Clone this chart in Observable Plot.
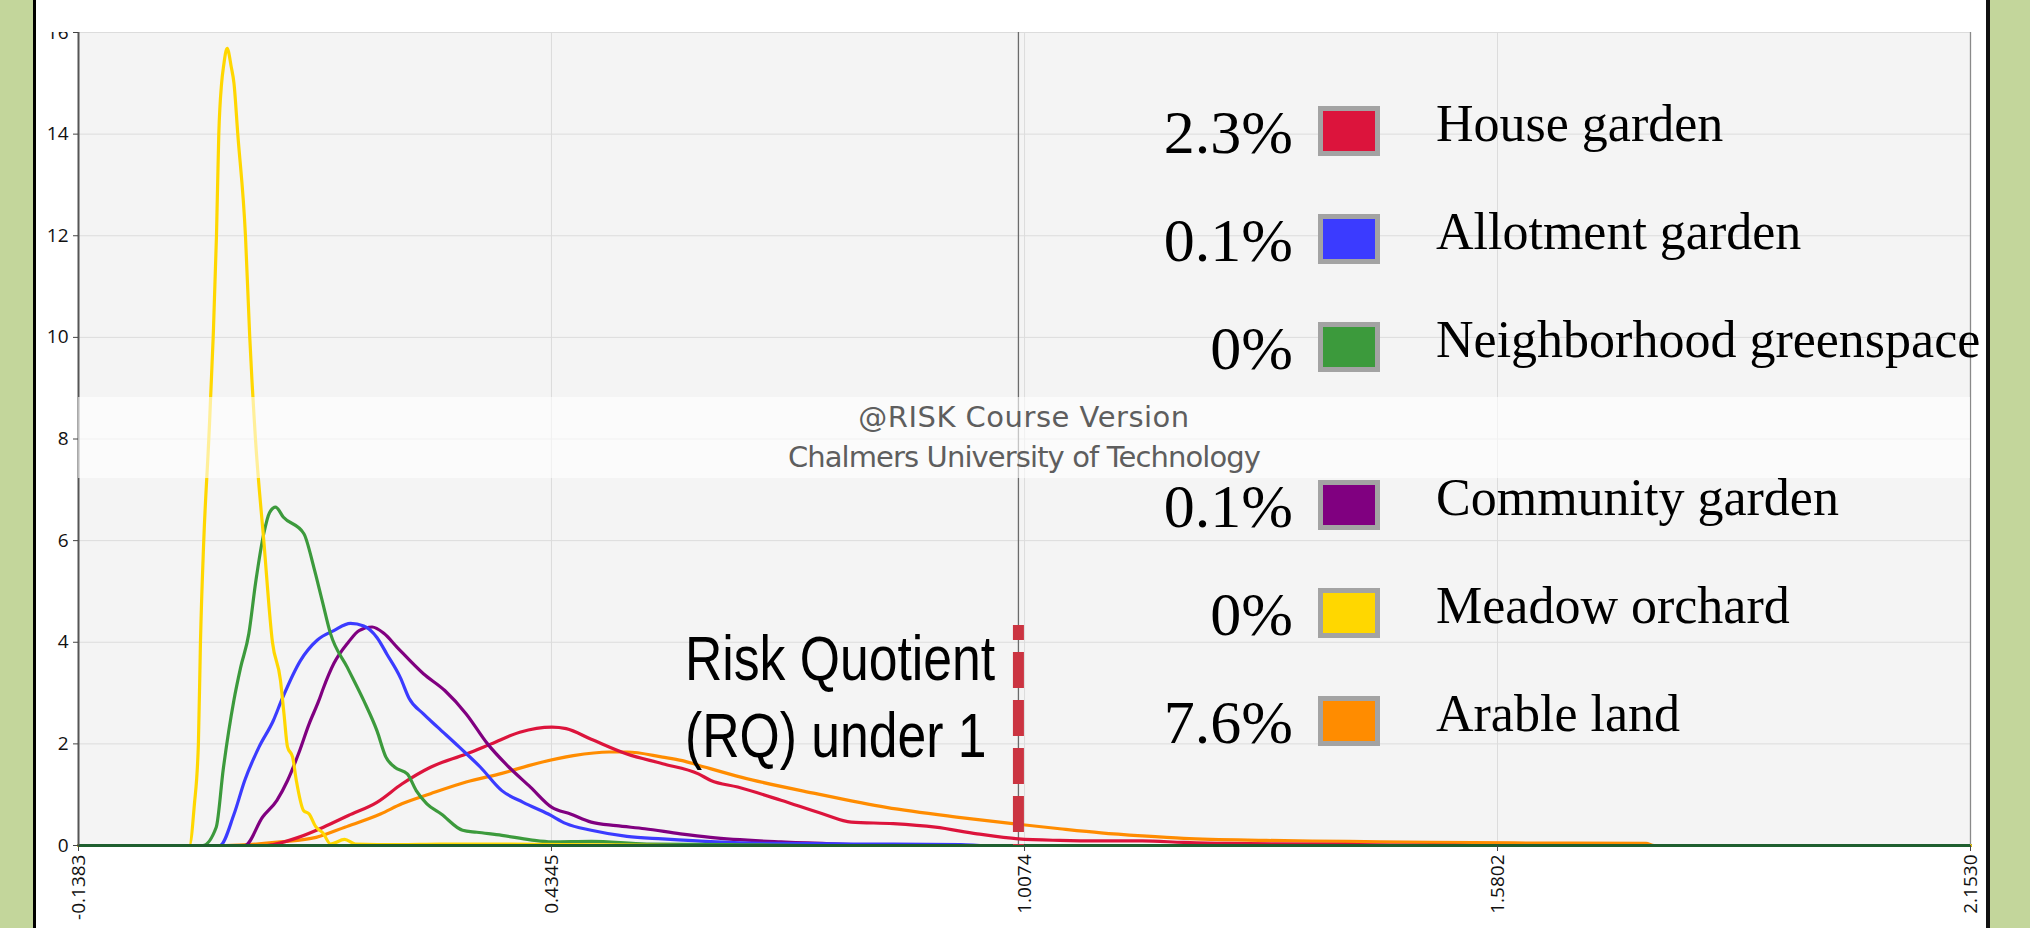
<!DOCTYPE html>
<html>
<head>
<meta charset="utf-8">
<script src="https://cdn.jsdelivr.net/npm/d3@7"></script>
<script src="https://cdn.jsdelivr.net/npm/@observablehq/plot@0.6"></script>
<style>
  html, body { margin: 0; padding: 0; background: #c3d69b; }
  #page { position: relative; width: 2030px; height: 928px; background: #c3d69b; overflow: hidden; }
  #panel { position: absolute; left: 33px; top: 0; width: 1950px; height: 928px;
           border-left: 3px solid #000; border-right: 4px solid #111; background: #fff; overflow: hidden; }
  #chart { position: absolute; left: 0; top: 32px; }
  #band { position: absolute; left: 42px; top: 397px; width: 1892px; height: 81px;
          background: rgba(255,255,255,0.6); text-align: center; font-family: "DejaVu Sans", sans-serif;
          font-size: 29px; line-height: 40px; color: #5e5e5e; box-sizing: border-box; }
  #band .l1 { letter-spacing: 0.5px; }
  #band .l2 { letter-spacing: -0.9px; }
  #rq { position: absolute; left: 649px; top: 620px; font-family: "Liberation Sans", Arial, sans-serif;
        font-size: 63px; line-height: 77px; color: #000; white-space: pre; transform: scaleX(0.82); transform-origin: 0 0; }
  .pct { position: absolute; width: 300px; text-align: right; font-family: "Liberation Serif", "Times New Roman", serif;
         font-size: 62px; line-height: 1; color: #000; white-space: nowrap; }
  .sw { position: absolute; width: 62px; height: 50px; box-sizing: border-box; border: 5px solid #a3a3a3; }
  .lab { position: absolute; font-family: "Liberation Serif", "Times New Roman", serif; font-size: 52px;
         line-height: 1; color: #000; white-space: nowrap; }
</style>
</head>
<body>
<div id="page">
  <div id="panel">
    <div id="chart"></div>
    <div id="band"></div>
    <div id="rq"></div>
    <div id="legend"></div>
  </div>
</div>
<script>
// ---- axis ticks ----
const xTicks = [-0.1383, 0.4345, 1.0074, 1.5802, 2.1530];
const xTickLabels = ["-0.1383", "0.4345", "1.0074", "1.5802", "2.1530"];
const yTicks = [0, 2, 4, 6, 8, 10, 12, 14, 16];

// ---- series (x = risk quotient, y = density) ----
const houseGarden = [[-0.1383,0],[0.09,0],[0.0977,0.02],[0.128,0.16],[0.1583,0.36],[0.1885,0.59],[0.2231,0.85],
  [0.2533,1.21],[0.288,1.54],[0.3312,1.8],[0.3615,2.0],[0.3961,2.23],[0.435,2.33],[0.4523,2.3],[0.4826,2.09],
  [0.5258,1.8],[0.569,1.61],[0.6124,1.41],[0.6275,1.28],[0.66,1.15],[0.7125,0.89],[0.7635,0.62],[0.7976,0.46],
  [0.8484,0.43],[0.8995,0.36],[0.95,0.23],[1.0,0.13],[1.05,0.10],[1.1,0.09],[1.15,0.09],[1.2,0.06],[1.25,0.04],
  [1.35,0.03],[1.45,0.01],[1.55,0],[2.153,0]];
const allotmentGarden = [[-0.1383,0],[0.0328,0],[0.0501,0.62],[0.063,1.28],[0.0804,1.94],[0.0977,2.46],[0.1084,2.89],
  [0.1305,3.64],[0.1507,4.04],[0.1709,4.23],[0.1911,4.37],[0.2072,4.32],[0.2233,4.09],[0.2354,3.76],[0.2516,3.30],
  [0.262,2.9],[0.2794,2.59],[0.2966,2.33],[0.3226,1.94],[0.3485,1.54],[0.3744,1.08],[0.4002,0.85],[0.4307,0.62],
  [0.4523,0.43],[0.4826,0.30],[0.5258,0.18],[0.569,0.13],[0.634,0.07],[0.7,0.04],[0.8,0.03],[0.93,0.02],[0.96,0],[2.153,0]];
const neighborhoodGreenspace = [[-0.1383,0],[0.012,0],[0.0285,0.36],[0.037,1.5],[0.0498,2.85],[0.058,3.5],[0.068,4.17],
  [0.0761,5.16],[0.0861,6.14],[0.093,6.55],[0.1003,6.66],[0.1099,6.46],[0.1345,6.14],[0.1466,5.48],[0.1568,4.82],
  [0.1669,4.17],[0.1871,3.51],[0.2072,2.85],[0.2231,2.26],[0.234,1.74],[0.2447,1.54],[0.2599,1.41],[0.2707,1.08],
  [0.2836,0.82],[0.301,0.62],[0.3268,0.30],[0.3442,0.26],[0.3744,0.20],[0.409,0.11],[0.435,0.07],[0.4826,0.08],
  [0.55,0.03],[0.65,0.02],[0.75,0],[2.153,0]];
const communityGarden = [[-0.1383,0],[0.063,0],[0.0847,0.56],[0.102,0.89],[0.1149,1.28],[0.128,1.8],[0.1409,2.39],
  [0.1527,2.85],[0.1583,3.1],[0.1709,3.58],[0.1885,4.0],[0.2015,4.23],[0.2173,4.3],[0.2318,4.17],[0.2476,3.9],
  [0.2794,3.38],[0.3053,3.05],[0.3312,2.59],[0.3571,2.0],[0.3831,1.54],[0.409,1.15],[0.435,0.75],[0.4575,0.62],
  [0.4826,0.46],[0.5129,0.39],[0.5475,0.33],[0.5907,0.23],[0.627,0.16],[0.7125,0.07],[0.78,0.03],[0.85,0],[2.153,0]];
const meadowOrchard = [[-0.1383,0],[-0.004,0],[0.002,0.8],[0.0069,2],[0.0094,4],[0.0134,6],[0.0195,8],[0.0248,10],
  [0.0288,12],[0.0316,14],[0.035,15.0],[0.0375,15.35],[0.0417,15.69],[0.0467,15.32],[0.05,15.0],[0.0546,14],
  [0.0639,12],[0.0691,10],[0.076,8],[0.0861,6],[0.0966,4],[0.1063,3.25],[0.1105,2.6],[0.1148,1.94],[0.121,1.74],
  [0.1255,1.28],[0.1342,0.69],[0.141,0.62],[0.149,0.37],[0.158,0.24],[0.167,0.03],[0.184,0.12],[0.197,0.03],
  [0.25,0.02],[0.30,0.03],[0.45,0.02],[0.6,0],[2.153,0]];
const arableLand = [[-0.1383,0],[0.04,0],[0.106,0.07],[0.1495,0.16],[0.1842,0.36],[0.2274,0.62],[0.2533,0.82],
  [0.288,1.02],[0.3312,1.25],[0.3744,1.42],[0.4177,1.62],[0.461,1.77],[0.5043,1.84],[0.5258,1.84],[0.569,1.74],
  [0.593,1.67],[0.6124,1.58],[0.665,1.34],[0.755,1.02],[0.84,0.75],[0.925,0.56],[0.993,0.43],[1.05,0.33],[1.1,0.25],
  [1.15,0.19],[1.2,0.14],[1.3,0.10],[1.4,0.08],[1.5,0.06],[1.6,0.05],[1.76,0.04],[1.77,0],[2.153,0]];

// ---- legend ----
const seriesNames = ["House garden", "Allotment garden", "Neighborhood greenspace", "Community garden", "Meadow orchard", "Arable land"];
const seriesColors = ["#dc143c", "#3b3bff", "#3c9a3c", "#800080", "#ffd700", "#ff8c00"];
const exceedShares = ["2.3%", "0.1%", "0%", "0.1%", "0%", "7.6%"];
const seriesData = [houseGarden, allotmentGarden, neighborhoodGreenspace, communityGarden, meadowOrchard, arableLand];
const drawOrder = [5, 0, 3, 1, 2, 4];

// ---- annotations ----
const rqThreshold = 1.0;
const rqLineTop = 4.33;
const rqText = "Risk Quotient\n(RQ) under 1";
const watermark = ["@RISK Course Version", "Chalmers University of Technology"];

const lineMarks = drawOrder.map(i => Plot.line(seriesData[i], {
  x: d => d[0], y: d => d[1], stroke: seriesColors[i], strokeWidth: 3.2, curve: "monotone-x"
}));

const chart = Plot.plot({
  width: 1950, height: 896,
  marginLeft: 42, marginRight: 16, marginTop: 0, marginBottom: 83,
  x: { domain: [xTicks[0], xTicks[xTicks.length - 1]] },
  y: { domain: [yTicks[0], yTicks[yTicks.length - 1]] },
  style: { fontFamily: "'Open Sans', 'Noto Sans', sans-serif", fontSize: "19px", overflow: "hidden", background: "transparent", color: "#111" },
  marks: [
    Plot.frame({ fill: "#f4f4f4", stroke: "none" }),
    Plot.gridY(yTicks, { stroke: "#dcdcdc", strokeOpacity: 1 }),
    Plot.gridX(xTicks.slice(1, -1), { stroke: "#dcdcdc", strokeOpacity: 1 }),
    Plot.ruleX([rqThreshold], { stroke: "#6b6b6b", strokeWidth: 1.3 }),
    Plot.ruleX([xTicks[xTicks.length - 1]], { stroke: "#8a8a8a", strokeWidth: 1.3 }),
    ...lineMarks,
    Plot.ruleY([0], { stroke: "#1f5f2f", strokeWidth: 3 }),
    Plot.ruleX([xTicks[0]], { stroke: "#555", strokeWidth: 2 }),
    Plot.ruleX([{ x: rqThreshold, y1: rqLineTop, y2: 0 }], {
      x: "x", y1: "y1", y2: "y2", stroke: "#cb3441", strokeWidth: 11,
      strokeDasharray: "36,12", strokeDashoffset: 21
    }),
    Plot.axisY({ ticks: yTicks, tickSize: 5, tickPadding: 5, fontSize: 19, label: null, stroke: "#444" }),
    Plot.axisX({
      ticks: xTicks, tickFormat: d => xTickLabels[xTicks.indexOf(d)], tickRotate: -90,
      fontSize: 19, tickSize: 6, tickPadding: 3, label: null, stroke: "#444"
    })
  ]
});
document.getElementById("chart").appendChild(chart);

// watermark band
const band = document.getElementById("band");
watermark.forEach((t, i) => { const d = document.createElement("div"); d.className = "l" + (i + 1); d.textContent = t; band.appendChild(d); });

// RQ annotation
document.getElementById("rq").textContent = rqText;

// legend (HTML overlay)
const legend = document.getElementById("legend");
seriesNames.forEach((name, i) => {
  const c = 131 + i * 108 + (i >= 3 ? 50 : 0);
  const p = document.createElement("div");
  p.className = "pct"; p.style.left = "957px"; p.style.top = (c - 30) + "px"; p.textContent = exceedShares[i];
  const s = document.createElement("div");
  s.className = "sw"; s.style.left = "1282px"; s.style.top = (c - 25) + "px"; s.style.background = seriesColors[i];
  const l = document.createElement("div");
  l.className = "lab"; l.style.left = "1400px"; l.style.top = (c - 33.5) + "px"; l.textContent = name;
  legend.appendChild(p); legend.appendChild(s); legend.appendChild(l);
});
</script>
</body>
</html>
